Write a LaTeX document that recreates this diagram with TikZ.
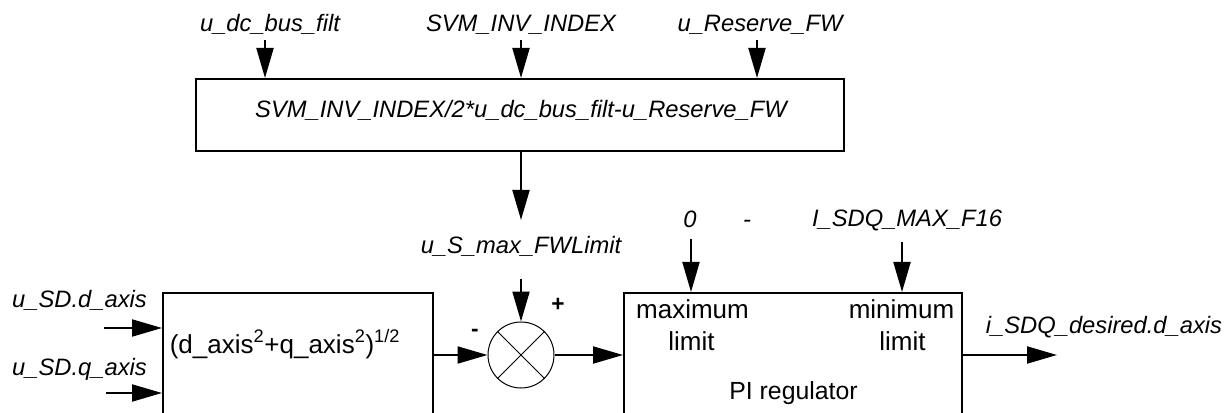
\documentclass[tikz,border=0pt]{standalone}
\usepackage{fontspec}
\setmainfont{Liberation Sans}
\usetikzlibrary{arrows.meta}
\begin{document}
\begin{tikzpicture}[x=0.75pt,y=-0.75pt,
  box/.style={draw, line width=1.5pt, inner sep=0pt},
  sig/.style={-{Triangle[length=22.5pt,width=12.75pt]}, line width=1.5pt},
  lab/.style={font=\fontsize{17.8}{20}\selectfont\itshape, inner sep=0pt, anchor=base},
  txt/.style={font=\fontsize{19.5}{22}\selectfont, inner sep=0pt, anchor=base},
  sgn/.style={font=\fontsize{17}{20}\selectfont\bfseries, inner sep=0pt},
]
\useasboundingbox (0,0) rectangle (1227,413);
\clip (0,0) rectangle (1227,413);

% blocks
\node[box, minimum width=486pt, minimum height=54pt] (fw) at (520,115) {};
\node[box, minimum width=202.5pt, minimum height=102.75pt] (mag) at (298,361.5) {};
\node[box, minimum width=253.5pt, minimum height=102.75pt] (pi) at (793,361.5) {};
\node[draw, circle, line width=0.75pt, minimum size=49.5pt, inner sep=0pt] (sum) at (521,355) {};
\draw[line width=0.75pt] (sum.north west) -- (sum.south east) (sum.north east) -- (sum.south west);

% texts
\node[lab] (l1) at (270,31.5) {u\_dc\_bus\_filt};
\node[lab] (l2) at (521,32) {SVM\_INV\_INDEX};
\node[lab] (l3) at (760,32) {u\_Reserve\_FW};
\node[lab] (fwt) at (521,118) {SVM\_INV\_INDEX/2*u\_dc\_bus\_filt-u\_Reserve\_FW};
\node[lab] (l4) at (521,253) {u\_S\_max\_FWLimit};
\node[lab] (l5) at (690,228) {0};
\node[lab] (l6) at (747,228) {-};
\node[lab] (l7) at (907,227) {I\_SDQ\_MAX\_F16};
\node[lab] (l8) at (79.5,307) {u\_SD.d\_axis};
\node[lab] (l9) at (79.5,375) {u\_SD.q\_axis};
\node[lab] (l10) at (1104,333) {i\_SDQ\_desired.d\_axis};
\node[txt] (magt) at (285,353) {(d\_axis\textsuperscript{2}+q\_axis\textsuperscript{2})\textsuperscript{1/2}};
\node[txt] (mx) at (692.5,318) {maximum};
\node[txt] (mxl) at (691.5,350) {limit};
\node[txt] (mn) at (901.5,318) {minimum};
\node[txt] (mnl) at (902.5,350) {limit};
\node[txt, font=\fontsize{18.6}{22}\selectfont] (pit) at (793.5,399) {PI regulator};
\node[sgn] (plus) at (558,305) {+};
\node[sgn] (minus) at (475,333) {-};

% free ends
\coordinate (i1) at (265,40);
\coordinate (i2) at (521,40);
\coordinate (i3) at (757,40);
\coordinate (o1) at (521,220);
\coordinate (i4) at (521,279);
\coordinate (i5) at (691,239);
\coordinate (i6) at (902,242);
\coordinate (i7) at (104,328);
\coordinate (i8) at (106,393);
\coordinate (o2) at (1057,355);

% connectors
\draw[sig] (i1) -- (i1 |- fw.north);
\draw[sig] (i2) -- (i2 |- fw.north);
\draw[sig] (i3) -- (i3 |- fw.north);
\draw[sig] (o1 |- fw.south) -- (o1);
\draw[sig] (i4) -- (sum.north);
\draw[sig] (i7) -- (i7 -| mag.west);
\draw[sig] (i8) -- (i8 -| mag.west);
\draw[sig] (sum.west -| mag.east) -- (sum.west);
\draw[sig] (sum.east) -- (sum.east -| pi.west);
\draw[sig] (i5) -- (i5 |- pi.north);
\draw[sig] (i6) -- (i6 |- pi.north);
\draw[sig] (o2 -| pi.east) -- (o2);
\end{tikzpicture}
\end{document}
